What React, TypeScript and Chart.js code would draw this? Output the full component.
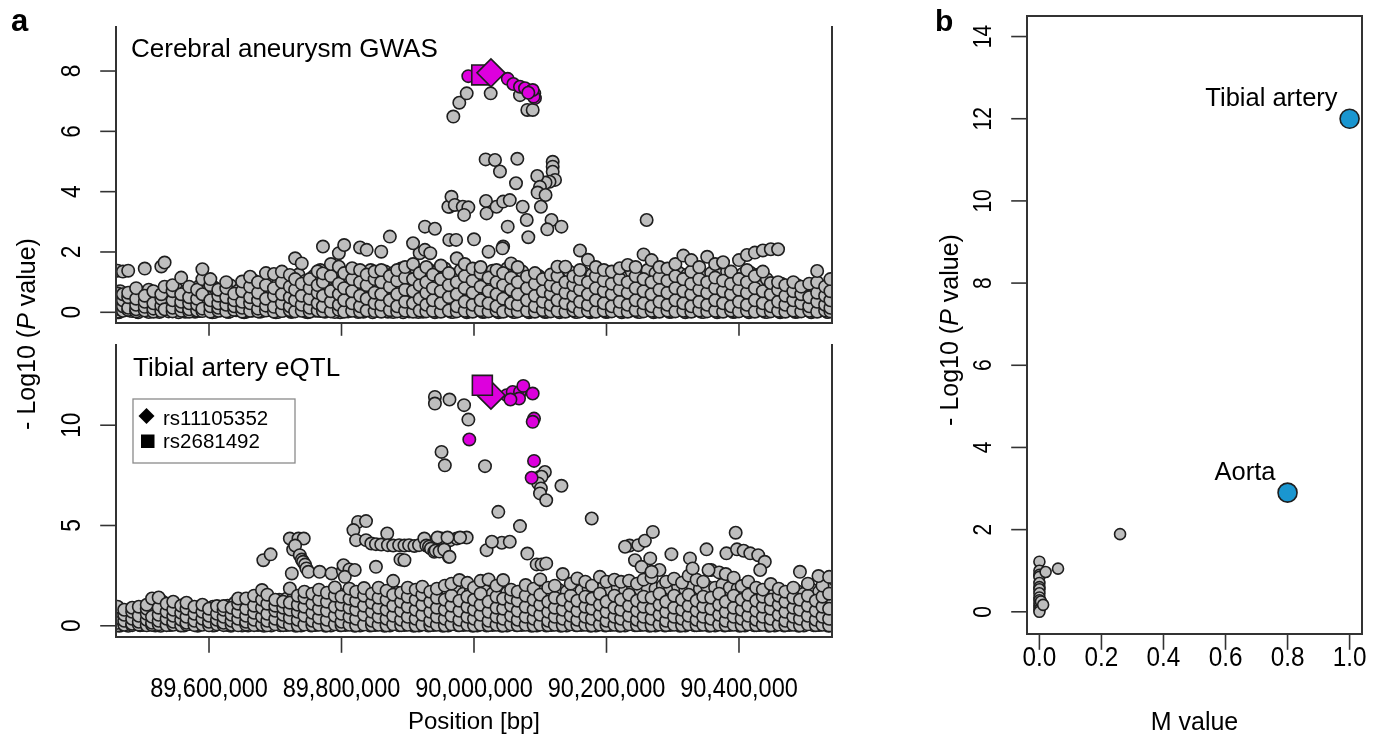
import React, { useEffect, useRef } from 'react';
import { Chart, registerables } from 'chart.js';

Chart.register(...registerables);

const W = 1383;
const H = 739;
const SANS = '"Liberation Sans", Arial, Helvetica, sans-serif';

// ---------------- tick labels ----------------
const positionTicks = [89600000, 89800000, 90000000, 90200000, 90400000];
const gwasTicksY = [0, 2, 4, 6, 8];
const eqtlTicksY = [0, 5, 10];
const mTicksX = [0, 0.2, 0.4, 0.6, 0.8, 1.0];
const mTicksY = [0, 2, 4, 6, 8, 10, 12, 14];

// ---------------- panel a, GWAS (positions in kb) ----------------
const gwasBackground = [
  [89462, [0.02, 0.12, 0.3, 0.55, 0.62, 1.38]], [89470, [0.05, 0.2, 0.4, 0.6, 1.35]],
  [89478, [0.08, 0.15, 0.5, 0.65, 1.38]], [89490, [0.03, 0.1, 0.25, 0.45, 0.8]],
  [89503, [0.06, 0.18, 0.35, 0.55, 1.45]], [89516, [0.02, 0.12, 0.3, 0.7]],
  [89528, [0.04, 0.22, 0.45, 0.6, 1.52]], [89533, [0.1, 0.85, 1.65]],
  [89545, [0.03, 0.15, 0.4, 0.7, 0.9]], [89558, [0.05, 0.2, 0.35, 0.6, 1.15]],
  [89570, [0.02, 0.1, 0.3, 0.5, 0.85]], [89582, [0.06, 0.25, 0.45, 0.75]],
  [89590, [0.04, 0.12, 0.6, 1.1, 1.43]], [89602, [0.02, 0.2, 0.4, 0.9, 1.1]],
  [89614, [0.05, 0.15, 0.3, 0.55, 0.75]], [89626, [0.03, 0.25, 0.5, 0.8, 1.0]],
  [89638, [0.08, 0.2, 0.4, 0.62]], [89650, [0.02, 0.15, 0.35, 0.7, 1.02]],
  [89662, [0.05, 0.3, 0.5, 0.85, 1.18]], [89674, [0.03, 0.12, 0.4, 0.65, 1.0]],
  [89686, [0.06, 0.22, 0.45, 0.9, 1.3]], [89698, [0.02, 0.18, 0.55, 0.8, 1.27]],
  [89710, [0.04, 0.3, 0.6, 1.0, 1.35]], [89722, [0.07, 0.2, 0.5, 0.85, 1.24]],
  [89730, [0.03, 0.4, 0.75, 1.1, 1.79]], [89740, [0.05, 0.25, 0.55, 0.95, 1.62]],
  [89752, [0.02, 0.15, 0.45, 0.8, 1.1]], [89764, [0.06, 0.3, 0.65, 0.9, 1.36]],
  [89772, [0.04, 0.2, 0.55, 1.0, 1.29, 2.18]], [89784, [0.03, 0.35, 0.7, 1.2, 1.6]],
  [89796, [0.08, 0.25, 0.6, 0.95, 1.51, 1.96]], [89804, [0.02, 0.4, 0.8, 1.3, 2.23]],
  [89816, [0.05, 0.3, 0.7, 1.1, 1.46]], [89828, [0.03, 0.2, 0.55, 1.0, 1.4, 2.15]],
  [89838, [0.06, 0.45, 0.9, 1.25, 2.07]], [89850, [0.04, 0.3, 0.65, 1.1, 1.35]],
  [89860, [0.02, 0.25, 0.6, 1.0, 1.4, 2.01]], [89873, [0.07, 0.4, 0.85, 1.2]],
  [89884, [0.03, 0.2, 0.6, 1.05, 1.4]], [89896, [0.05, 0.35, 0.75, 1.15, 1.5]],
  [89908, [0.02, 0.3, 0.7, 1.1, 1.6]], [89918, [0.06, 0.45, 0.9, 1.3, 1.96]],
  [89928, [0.03, 0.25, 0.65, 1.0, 1.5]], [89938, [0.05, 0.4, 0.8, 1.25]],
  [89950, [0.02, 0.3, 0.7, 1.1, 1.55]], [89962, [0.06, 0.5, 0.9, 1.3]],
  [89974, [0.03, 0.2, 0.6, 1.0, 1.79]], [89986, [0.05, 0.35, 0.8, 1.2, 1.6]],
  [89998, [0.02, 0.25, 0.65, 1.05, 1.45]], [90010, [0.07, 0.4, 0.85, 1.3, 1.5]],
  [90022, [0.03, 0.3, 0.7, 1.15, 2.01]], [90034, [0.05, 0.2, 0.6, 1.0, 1.4]],
  [90044, [0.02, 0.45, 0.9, 1.3, 2.18]], [90056, [0.06, 0.3, 0.75, 1.15, 1.62]],
  [90066, [0.03, 0.25, 0.6, 1.0, 1.5]], [90080, [0.05, 0.4, 0.8, 1.19]],
  [90092, [0.02, 0.2, 0.55, 0.95, 1.3]], [90104, [0.07, 0.35, 0.7, 1.1]],
  [90116, [0.03, 0.25, 0.6, 0.9, 1.25]], [90126, [0.05, 0.4, 0.8, 1.2, 1.51]],
  [90138, [0.02, 0.3, 0.65, 1.0, 1.51]], [90150, [0.06, 0.2, 0.55, 0.9, 1.19]],
  [90160, [0.03, 0.35, 0.75, 1.1, 1.4, 2.05]], [90172, [0.05, 0.25, 0.6, 1.0, 1.74]],
  [90184, [0.02, 0.4, 0.8, 1.2, 1.5]], [90196, [0.06, 0.3, 0.7, 1.05, 1.4]],
  [90208, [0.03, 0.2, 0.6, 0.95, 1.35]], [90220, [0.05, 0.35, 0.75, 1.1, 1.46]],
  [90232, [0.02, 0.25, 0.65, 1.0, 1.57]], [90244, [0.07, 0.4, 0.8, 1.2, 1.5]],
  [90256, [0.03, 0.3, 0.7, 1.1, 1.92]], [90268, [0.05, 0.2, 0.6, 1.0, 1.73]],
  [90280, [0.02, 0.35, 0.75, 1.15, 1.5]], [90292, [0.06, 0.25, 0.65, 1.05, 1.45]],
  [90304, [0.03, 0.4, 0.8, 1.2, 1.6]], [90316, [0.05, 0.3, 0.7, 1.1, 1.88]],
  [90328, [0.02, 0.2, 0.6, 0.95, 1.35, 1.73]], [90340, [0.06, 0.35, 0.75, 1.1, 1.5]],
  [90352, [0.03, 0.25, 0.65, 1.0, 1.84]], [90364, [0.05, 0.4, 0.8, 1.15, 1.6]],
  [90376, [0.02, 0.3, 0.7, 1.05, 1.66]], [90388, [0.06, 0.2, 0.6, 0.95, 1.35]],
  [90400, [0.03, 0.35, 0.75, 1.1, 1.73]], [90412, [0.05, 0.25, 0.65, 1.0, 1.4, 1.9]],
  [90424, [0.02, 0.4, 0.8, 1.2, 1.98]], [90436, [0.06, 0.3, 0.7, 1.35, 2.05]],
  [90448, [0.03, 0.2, 0.6, 0.97, 2.09]], [90459, [0.05, 0.35, 0.75, 1.0, 2.09]],
  [90470, [0.02, 0.25, 0.55, 0.9]], [90482, [0.06, 0.4, 0.7, 1.0]],
  [90494, [0.03, 0.3, 0.6, 0.85]], [90506, [0.05, 0.2, 0.5, 0.95]],
  [90518, [0.02, 0.35, 0.65, 1.0, 1.37]], [90530, [0.06, 0.25, 0.55, 0.85]],
  [90538, [0.03, 0.15, 0.4, 0.7, 1.1]],
];
const gwasBackgroundFill = [
  [89466, [0.1, 0.35, 0.7]], [89484, [0.04, 0.28, 0.52]], [89496, [0.12, 0.38, 0.62]],
  [89509, [0.01, 0.26, 0.48, 0.75]], [89522, [0.09, 0.33, 0.58]], [89539, [0.03, 0.27, 0.55]],
  [89551, [0.11, 0.42, 0.78]], [89564, [0.02, 0.24, 0.5, 0.68]], [89576, [0.1, 0.36, 0.62]],
  [89586, [0.04, 0.3, 0.88]], [89596, [0.12, 0.45, 0.7]], [89608, [0.01, 0.28, 0.62, 0.82]],
  [89620, [0.09, 0.4, 0.66]], [89632, [0.03, 0.32, 0.58, 0.9]], [89644, [0.11, 0.45, 0.72]],
  [89656, [0.02, 0.26, 0.6, 0.88]], [89668, [0.1, 0.4, 0.7, 1.05]], [89680, [0.04, 0.32, 0.62]],
  [89692, [0.12, 0.48, 0.75, 1.1]], [89704, [0.01, 0.35, 0.68, 0.95]], [89716, [0.09, 0.42, 0.75, 1.12]],
  [89726, [0.03, 0.3, 0.62, 1.0]], [89735, [0.11, 0.5, 0.85, 1.25]], [89746, [0.02, 0.38, 0.7, 1.05]],
  [89758, [0.1, 0.45, 0.8, 1.2]], [89768, [0.04, 0.35, 0.72, 1.1, 1.4]], [89778, [0.12, 0.5, 0.85, 1.15]],
  [89790, [0.01, 0.4, 0.78, 1.25]], [89800, [0.09, 0.5, 0.9, 1.35]], [89810, [0.03, 0.35, 0.75, 1.2]],
  [89822, [0.11, 0.48, 0.88, 1.3]], [89833, [0.02, 0.38, 0.8, 1.15]], [89844, [0.1, 0.5, 0.95, 1.4]],
  [89855, [0.04, 0.42, 0.82, 1.25]], [89866, [0.12, 0.52, 0.92, 1.35]], [89878, [0.01, 0.36, 0.78, 1.3]],
  [89890, [0.09, 0.48, 0.9, 1.45]], [89902, [0.03, 0.42, 0.85, 1.3]], [89913, [0.11, 0.55, 0.95, 1.42]],
  [89923, [0.02, 0.38, 0.8, 1.2]], [89933, [0.1, 0.52, 0.98, 1.4]], [89944, [0.04, 0.45, 0.88, 1.35]],
  [89956, [0.12, 0.55, 1.0, 1.45]], [89968, [0.01, 0.4, 0.85, 1.25]], [89980, [0.09, 0.5, 0.95, 1.4]],
  [89992, [0.03, 0.45, 0.9, 1.35]], [90004, [0.11, 0.55, 1.0, 1.42]], [90016, [0.02, 0.42, 0.88, 1.25]],
  [90028, [0.1, 0.5, 0.95, 1.38]], [90039, [0.04, 0.45, 0.85, 1.3]], [90050, [0.12, 0.55, 1.0, 1.45]],
  [90061, [0.01, 0.4, 0.82, 1.2]], [90073, [0.09, 0.5, 0.92, 1.35]], [90086, [0.03, 0.42, 0.85, 1.15]],
  [90098, [0.11, 0.48, 0.88, 1.2]], [90110, [0.02, 0.38, 0.8, 1.1]], [90121, [0.1, 0.45, 0.85, 1.25]],
  [90132, [0.04, 0.4, 0.8, 1.3]], [90144, [0.12, 0.5, 0.9, 1.35]], [90155, [0.01, 0.35, 0.75, 1.2]],
  [90166, [0.09, 0.48, 0.88, 1.3]], [90178, [0.03, 0.42, 0.8, 1.25]], [90190, [0.11, 0.5, 0.9, 1.35]],
  [90202, [0.02, 0.38, 0.78, 1.2]], [90214, [0.1, 0.45, 0.85, 1.28]], [90226, [0.04, 0.4, 0.8, 1.3]],
  [90238, [0.12, 0.5, 0.9, 1.35]], [90250, [0.01, 0.36, 0.78, 1.25]], [90262, [0.09, 0.48, 0.88, 1.4]],
  [90274, [0.03, 0.42, 0.82, 1.3]], [90286, [0.11, 0.5, 0.9, 1.35]], [90298, [0.02, 0.38, 0.78, 1.22]],
  [90310, [0.1, 0.45, 0.85, 1.3]], [90322, [0.04, 0.4, 0.8, 1.25]], [90334, [0.12, 0.5, 0.9, 1.4]],
  [90346, [0.01, 0.35, 0.75, 1.2]], [90358, [0.09, 0.48, 0.88, 1.3]], [90370, [0.03, 0.42, 0.8, 1.25]],
  [90382, [0.11, 0.5, 0.9, 1.35]], [90394, [0.02, 0.38, 0.78, 1.2]], [90406, [0.1, 0.45, 0.85, 1.28]],
  [90418, [0.04, 0.4, 0.8, 1.3]], [90430, [0.12, 0.5, 0.9, 1.25]], [90442, [0.01, 0.36, 0.75, 1.1]],
  [90453, [0.09, 0.45, 0.82]], [90464, [0.03, 0.38, 0.7, 0.95]], [90476, [0.11, 0.45, 0.8]],
  [90488, [0.02, 0.35, 0.68, 0.9]], [90500, [0.1, 0.42, 0.75]], [90512, [0.04, 0.32, 0.65, 0.88]],
  [90524, [0.12, 0.45, 0.78]], [90534, [0.01, 0.3, 0.6, 0.9]],
];
const gwasLow = [
  [89464, [0.0, 0.18]], [89480, [0.06, 0.22]], [89493, [0.0, 0.16]], [89512, [0.08, 0.2]],
  [89525, [0.01, 0.14]], [89542, [0.07, 0.21]], [89554, [0.0, 0.17]], [89567, [0.05, 0.23]],
  [89579, [0.02, 0.15]], [89593, [0.08, 0.19]], [89605, [0.0, 0.22]], [89617, [0.06, 0.16]],
  [89629, [0.01, 0.2]], [89641, [0.07, 0.24]], [89653, [0.0, 0.14]], [89665, [0.05, 0.21]],
  [89677, [0.02, 0.18]], [89689, [0.08, 0.23]], [89701, [0.0, 0.15]], [89713, [0.06, 0.2]],
  [89724, [0.01, 0.17]], [89737, [0.07, 0.22]], [89749, [0.0, 0.19]], [89761, [0.05, 0.16]],
  [89775, [0.02, 0.24]], [89787, [0.08, 0.18]], [89798, [0.0, 0.21]], [89813, [0.06, 0.15]],
  [89825, [0.01, 0.2]], [89836, [0.07, 0.23]], [89847, [0.0, 0.17]], [89858, [0.05, 0.22]],
  [89870, [0.02, 0.16]], [89881, [0.08, 0.2]], [89893, [0.0, 0.24]], [89905, [0.06, 0.18]],
  [89916, [0.01, 0.21]], [89926, [0.07, 0.15]], [89941, [0.0, 0.2]], [89953, [0.05, 0.23]],
  [89965, [0.02, 0.17]], [89977, [0.08, 0.22]], [89989, [0.0, 0.16]], [90001, [0.06, 0.2]],
  [90013, [0.01, 0.24]], [90025, [0.07, 0.18]], [90037, [0.0, 0.21]], [90047, [0.05, 0.15]],
  [90059, [0.02, 0.2]], [90070, [0.08, 0.23]], [90083, [0.0, 0.17]], [90095, [0.06, 0.22]],
  [90107, [0.01, 0.16]], [90119, [0.07, 0.2]], [90129, [0.0, 0.24]], [90141, [0.05, 0.18]],
  [90153, [0.02, 0.21]], [90163, [0.08, 0.15]], [90175, [0.0, 0.2]], [90187, [0.06, 0.23]],
  [90199, [0.01, 0.17]], [90211, [0.07, 0.22]], [90223, [0.0, 0.16]], [90235, [0.05, 0.2]],
  [90247, [0.02, 0.24]], [90259, [0.08, 0.18]], [90271, [0.0, 0.21]], [90283, [0.06, 0.15]],
  [90295, [0.01, 0.2]], [90307, [0.07, 0.23]], [90319, [0.0, 0.17]], [90331, [0.05, 0.22]],
  [90343, [0.02, 0.16]], [90355, [0.08, 0.2]], [90367, [0.0, 0.24]], [90379, [0.06, 0.18]],
  [90391, [0.01, 0.21]], [90403, [0.07, 0.15]], [90415, [0.0, 0.2]], [90427, [0.05, 0.23]],
  [90439, [0.02, 0.17]], [90451, [0.08, 0.22]], [90462, [0.0, 0.16]], [90473, [0.06, 0.2]],
  [90485, [0.01, 0.24]], [90497, [0.07, 0.18]], [90509, [0.0, 0.21]], [90521, [0.05, 0.15]],
  [90533, [0.02, 0.2]],
];
const gwasPeak = [
  [89926, 2.84], [89941, 2.77], [89926, 2.07], [89934, 1.96], [89962.7, 2.4], [89963, 3.5],
  [89961.3, 3.5], [89966, 3.83], [89971, 3.56], [89983, 3.5], [89991.5, 3.48], [89985, 3.23],
  [89968.8, 6.49], [89977.8, 6.95], [89989, 7.26], [90025.2, 7.26], [90069.4, 7.2],
  [90080.5, 6.71], [90088.6, 6.71], [90017.6, 5.07], [90031.7, 5.05], [90039.2, 4.67],
  [90065.4, 5.09], [90063.4, 4.28], [90118.8, 4.99], [90118.8, 4.83], [90118.8, 4.66],
  [90122.3, 4.39], [90114, 4.33], [90108, 4.3], [90095.5, 4.52], [90099.6, 4.16], [90096, 3.97],
  [90108, 3.89], [90101, 3.5], [90018.1, 3.69], [90019, 3.28], [90034, 3.5], [90044, 3.67],
  [90054, 3.72], [90073.5, 3.5], [90079.6, 3.06], [90050.9, 2.84], [90082, 2.49], [90117, 3.06],
  [90132, 2.84], [90110.6, 2.75], [90000, 2.42], [89973, 2.4], [90043, 2.12], [90260.6, 3.06],
  [89873, 2.51], [89908, 2.29],
];
const gwasLinked = [
  [89991.4, 7.83], [90050.9, 7.74], [90059.4, 7.57], [90069.4, 7.48], [90077, 7.43],
  [90085.5, 7.31], [90091, 7.26], [90092, 7.1], [90090, 7.15], [90088.6, 7.37], [90082, 7.28],
];
const gwasDiamond = [[90025.6, 7.94]];
const gwasSquare = [[90011.7, 7.87]];

// ---------------- panel a, tibial artery eQTL (positions in kb) ----------------
const eqtlBackground = [
  [89462, [0.02, 0.15, 0.4, 0.75, 0.95]], [89472, [0.05, 0.25, 0.55, 0.8]],
  [89484, [0.03, 0.1, 0.35, 0.7, 0.9]], [89494, [0.06, 0.2, 0.5, 0.95]],
  [89506, [0.02, 0.3, 0.6, 0.85, 1.05]], [89514, [0.04, 0.15, 0.45, 1.36]],
  [89524, [0.07, 0.25, 0.55, 0.9, 1.41]], [89536, [0.03, 0.35, 0.7, 1.1]],
  [89546, [0.05, 0.2, 0.5, 0.8, 1.2]], [89558, [0.02, 0.3, 0.65, 1.0]],
  [89566, [0.06, 0.15, 0.45, 0.85, 1.15]], [89578, [0.03, 0.25, 0.6, 0.95]],
  [89590, [0.05, 0.35, 0.7, 1.05]], [89600, [0.02, 0.2, 0.5, 0.85]],
  [89612, [0.07, 0.3, 0.6, 0.98]], [89622, [0.03, 0.15, 0.45, 0.8, 0.98]],
  [89634, [0.05, 0.25, 0.55, 0.9]], [89644, [0.02, 0.35, 0.7, 1.1, 1.36]],
  [89656, [0.06, 0.2, 0.5, 0.85, 1.36]], [89668, [0.03, 0.3, 0.65, 1.0, 1.5]],
  [89680, [0.05, 0.45, 0.9, 1.3, 1.78]], [89688, [0.02, 0.25, 0.6, 1.1, 1.55]],
  [89700, [0.07, 0.35, 0.75, 1.0, 1.3]], [89712, [0.03, 0.2, 0.55, 0.9, 1.2]],
  [89722, [0.05, 0.4, 0.8, 1.15, 1.86]], [89734, [0.02, 0.3, 0.7, 1.05, 1.5]],
  [89744, [0.06, 0.5, 0.95, 1.4, 1.7]], [89756, [0.03, 0.25, 0.65, 1.1, 1.6]],
  [89766, [0.05, 0.4, 0.85, 1.3, 1.8]], [89778, [0.02, 0.3, 0.75, 1.2, 1.65]],
  [89790, [0.07, 0.5, 0.95, 1.5, 1.91]], [89800, [0.03, 0.2, 0.6, 1.05, 1.45]],
  [89812, [0.05, 0.45, 0.9, 1.35, 1.85]], [89822, [0.02, 0.35, 0.8, 1.25, 1.7]],
  [89834, [0.06, 0.55, 1.0, 1.5, 1.88]], [89846, [0.03, 0.25, 0.7, 1.15, 1.6]],
  [89856, [0.05, 0.45, 0.9, 1.4, 1.9]], [89868, [0.02, 0.35, 0.8, 1.3, 1.75]],
  [89878, [0.07, 0.5, 1.0, 1.55, 2.24]], [89890, [0.03, 0.3, 0.75, 1.2, 1.65]],
  [89900, [0.05, 0.45, 0.95, 1.45, 1.9]], [89912, [0.02, 0.35, 0.8, 1.3, 1.8]],
  [89922, [0.06, 0.55, 1.05, 1.55, 1.95]], [89934, [0.03, 0.25, 0.7, 1.2, 1.7]],
  [89944, [0.05, 0.45, 0.9, 1.4, 1.85]], [89956, [0.02, 0.35, 0.8, 1.3, 2.0]],
  [89966, [0.07, 0.5, 1.0, 1.5, 2.1]], [89978, [0.03, 0.3, 0.75, 1.25, 2.28]],
  [89990, [0.05, 0.45, 0.95, 1.45, 2.14]], [90000, [0.02, 0.35, 0.8, 1.3, 1.9]],
  [90010, [0.06, 0.55, 1.05, 1.6, 2.24]], [90022, [0.03, 0.25, 0.7, 1.2, 2.31]],
  [90034, [0.05, 0.45, 0.9, 1.45, 2.0]], [90044, [0.02, 0.35, 0.85, 1.35, 2.28]],
  [90056, [0.07, 0.5, 1.0, 1.41, 1.8]], [90066, [0.03, 0.3, 0.75, 1.25, 1.7]],
  [90078, [0.05, 0.45, 0.95, 1.5, 2.03]], [90090, [0.02, 0.35, 0.8, 1.3, 1.85]],
  [90100, [0.06, 0.55, 1.05, 1.55, 2.31]], [90112, [0.03, 0.25, 0.7, 1.2, 1.9]],
  [90122, [0.05, 0.45, 0.9, 1.4, 2.0]], [90134, [0.02, 0.35, 0.8, 1.3, 2.58]],
  [90146, [0.07, 0.5, 1.0, 1.5, 2.1]], [90156, [0.03, 0.3, 0.75, 1.25, 2.36]],
  [90168, [0.05, 0.45, 0.95, 1.45, 2.2]], [90178, [0.02, 0.35, 0.85, 1.35, 2.0]],
  [90190, [0.06, 0.55, 1.05, 1.6, 2.44]], [90200, [0.03, 0.25, 0.7, 1.2, 2.2]],
  [90212, [0.05, 0.45, 0.9, 1.5, 2.3]], [90222, [0.02, 0.35, 0.8, 1.3, 2.19]],
  [90234, [0.07, 0.5, 1.0, 1.55, 2.25]], [90246, [0.03, 0.3, 0.75, 1.25, 2.1]],
  [90256, [0.05, 0.45, 0.95, 1.45, 2.3]], [90268, [0.02, 0.35, 0.85, 1.4, 2.4]],
  [90280, [0.06, 0.55, 1.05, 1.6, 2.78]], [90290, [0.03, 0.25, 0.7, 1.2, 2.2]],
  [90302, [0.05, 0.45, 0.9, 1.5, 2.35]], [90314, [0.02, 0.35, 0.8, 1.3, 2.15]],
  [90324, [0.07, 0.5, 1.0, 1.55, 2.5]], [90336, [0.03, 0.3, 0.75, 1.25, 2.3]],
  [90346, [0.05, 0.45, 0.95, 1.45, 2.2]], [90358, [0.02, 0.35, 0.85, 1.4, 2.78]],
  [90370, [0.06, 0.55, 1.05, 1.6, 2.66]], [90380, [0.03, 0.25, 0.7, 1.2, 2.58]],
  [90392, [0.05, 0.45, 0.9, 1.5, 2.4]], [90404, [0.02, 0.35, 0.8, 1.3, 1.98]],
  [90414, [0.07, 0.5, 1.0, 1.55, 2.2]], [90426, [0.03, 0.3, 0.75, 1.25, 1.9]],
  [90436, [0.05, 0.45, 0.95, 1.45, 1.8]], [90448, [0.02, 0.35, 0.85, 1.3, 2.08]],
  [90460, [0.06, 0.55, 1.05, 1.5, 1.85]], [90470, [0.03, 0.25, 0.7, 1.2, 1.7]],
  [90482, [0.05, 0.45, 0.9, 1.4, 1.9]], [90492, [0.02, 0.35, 0.8, 1.3]],
  [90504, [0.07, 0.5, 1.0, 1.5, 2.1]], [90516, [0.03, 0.3, 0.75, 1.25]],
  [90526, [0.05, 0.45, 0.95, 1.45, 2.0]], [90536, [0.02, 0.35, 0.85, 1.6]],
];
const eqtlBackgroundFill = [
  [89467, [0.1, 0.3, 0.6]], [89478, [0.0, 0.45, 0.7]], [89489, [0.12, 0.28, 0.55]],
  [89500, [0.04, 0.4, 0.75]], [89510, [0.1, 0.3, 0.7, 1.0]], [89519, [0.01, 0.35, 0.8]],
  [89530, [0.12, 0.45, 0.75, 1.2]], [89541, [0.04, 0.28, 0.6, 0.95]], [89552, [0.1, 0.4, 0.7]],
  [89562, [0.01, 0.35, 0.8, 1.05]], [89572, [0.12, 0.4, 0.75]], [89584, [0.04, 0.3, 0.55, 0.9]],
  [89595, [0.1, 0.45, 0.8]], [89606, [0.01, 0.35, 0.7, 0.95]], [89617, [0.12, 0.4, 0.75]],
  [89628, [0.04, 0.3, 0.65, 1.0]], [89639, [0.1, 0.45, 0.8, 1.15]], [89650, [0.01, 0.35, 0.7, 1.0]],
  [89662, [0.12, 0.45, 0.8, 1.2]], [89674, [0.04, 0.35, 0.7, 1.1]], [89684, [0.1, 0.55, 0.95, 1.4]],
  [89694, [0.01, 0.4, 0.8, 1.25]], [89706, [0.12, 0.5, 0.9, 1.3]], [89717, [0.04, 0.45, 0.85, 1.35]],
  [89728, [0.1, 0.6, 1.0, 1.45]], [89739, [0.01, 0.4, 0.85, 1.3]], [89750, [0.12, 0.6, 1.05, 1.55]],
  [89761, [0.04, 0.45, 0.9, 1.4]], [89772, [0.1, 0.6, 1.05, 1.5]], [89784, [0.01, 0.45, 0.9, 1.4]],
  [89795, [0.12, 0.6, 1.1, 1.6]], [89806, [0.04, 0.45, 0.95, 1.45]], [89817, [0.1, 0.6, 1.1, 1.55]],
  [89828, [0.01, 0.45, 0.95, 1.45]], [89840, [0.12, 0.65, 1.15, 1.6]], [89851, [0.04, 0.5, 1.0, 1.5]],
  [89862, [0.1, 0.65, 1.15, 1.6]], [89873, [0.01, 0.45, 1.0, 1.5]], [89884, [0.12, 0.65, 1.15, 1.65]],
  [89895, [0.04, 0.5, 1.0, 1.55]], [89906, [0.1, 0.65, 1.15, 1.6]], [89917, [0.01, 0.45, 1.0, 1.5]],
  [89928, [0.12, 0.65, 1.2, 1.7]], [89939, [0.04, 0.5, 1.05, 1.55]], [89950, [0.1, 0.65, 1.2, 1.65]],
  [89961, [0.01, 0.5, 1.05, 1.6]], [89972, [0.12, 0.65, 1.2, 1.75]], [89984, [0.04, 0.5, 1.05, 1.6]],
  [89995, [0.1, 0.65, 1.2, 1.7]], [90005, [0.01, 0.5, 1.0, 1.55]], [90016, [0.12, 0.65, 1.2, 1.75]],
  [90028, [0.04, 0.5, 1.05, 1.6]], [90039, [0.1, 0.65, 1.2, 1.7]], [90050, [0.01, 0.5, 1.05, 1.65]],
  [90061, [0.12, 0.65, 1.15, 1.6]], [90072, [0.04, 0.5, 1.05, 1.55]], [90084, [0.1, 0.65, 1.2, 1.7]],
  [90095, [0.01, 0.5, 1.0, 1.6]], [90106, [0.12, 0.65, 1.2, 1.75]], [90117, [0.04, 0.5, 1.05, 1.65]],
  [90128, [0.1, 0.65, 1.2, 1.8]], [90140, [0.01, 0.5, 1.05, 1.7]], [90151, [0.12, 0.65, 1.25, 1.85]],
  [90162, [0.04, 0.5, 1.1, 1.75]], [90173, [0.1, 0.7, 1.25, 1.85]], [90184, [0.01, 0.5, 1.1, 1.8]],
  [90195, [0.12, 0.7, 1.25, 1.9]], [90206, [0.04, 0.55, 1.1, 1.8]], [90217, [0.1, 0.7, 1.3, 1.9]],
  [90228, [0.01, 0.55, 1.1, 1.75]], [90240, [0.12, 0.7, 1.3, 1.95]], [90251, [0.04, 0.55, 1.15, 1.8]],
  [90262, [0.1, 0.7, 1.3, 1.9]], [90274, [0.01, 0.55, 1.15, 1.85]], [90285, [0.12, 0.7, 1.3, 2.0]],
  [90296, [0.04, 0.55, 1.15, 1.85]], [90308, [0.1, 0.7, 1.3, 1.95]], [90319, [0.01, 0.55, 1.15, 1.8]],
  [90330, [0.12, 0.7, 1.3, 2.0]], [90341, [0.04, 0.55, 1.15, 1.85]], [90352, [0.1, 0.7, 1.3, 1.95]],
  [90364, [0.01, 0.55, 1.15, 1.9]], [90375, [0.12, 0.7, 1.3, 2.05]], [90386, [0.04, 0.55, 1.15, 1.9]],
  [90398, [0.1, 0.7, 1.3, 1.85]], [90409, [0.01, 0.55, 1.1, 1.7]], [90420, [0.12, 0.7, 1.25, 1.8]],
  [90431, [0.04, 0.55, 1.1, 1.65]], [90442, [0.1, 0.7, 1.25, 1.75]], [90454, [0.01, 0.5, 1.05, 1.6]],
  [90465, [0.12, 0.65, 1.2, 1.7]], [90476, [0.04, 0.5, 1.05, 1.55]], [90487, [0.1, 0.65, 1.2, 1.75]],
  [90498, [0.01, 0.5, 1.05, 1.6]], [90510, [0.12, 0.65, 1.2, 1.8]], [90521, [0.04, 0.5, 1.1, 1.7]],
  [90532, [0.1, 0.65, 1.2, 1.85]],
];
const eqtlLow = [
  [89465, [0.0, 0.2]], [89481, [0.08, 0.28]], [89496, [0.02, 0.18]], [89511, [0.1, 0.3]],
  [89527, [0.0, 0.22]], [89543, [0.06, 0.26]], [89557, [0.01, 0.19]], [89570, [0.09, 0.3]],
  [89583, [0.0, 0.21]], [89597, [0.07, 0.27]], [89609, [0.02, 0.18]], [89621, [0.1, 0.29]],
  [89633, [0.0, 0.23]], [89647, [0.06, 0.25]], [89659, [0.01, 0.2]], [89671, [0.09, 0.3]],
  [89683, [0.0, 0.22]], [89696, [0.07, 0.26]], [89708, [0.02, 0.19]], [89719, [0.1, 0.28]],
  [89731, [0.0, 0.21]], [89742, [0.06, 0.27]], [89754, [0.01, 0.18]], [89764, [0.09, 0.3]],
  [89776, [0.0, 0.23]], [89788, [0.07, 0.25]], [89798, [0.02, 0.2]], [89809, [0.1, 0.29]],
  [89820, [0.0, 0.22]], [89831, [0.06, 0.26]], [89843, [0.01, 0.19]], [89853, [0.09, 0.28]],
  [89865, [0.0, 0.21]], [89876, [0.07, 0.27]], [89887, [0.02, 0.18]], [89898, [0.1, 0.3]],
  [89909, [0.0, 0.23]], [89920, [0.06, 0.25]], [89931, [0.01, 0.2]], [89942, [0.09, 0.29]],
  [89953, [0.0, 0.22]], [89964, [0.07, 0.26]], [89976, [0.02, 0.19]], [89987, [0.1, 0.28]],
  [89998, [0.0, 0.21]], [90008, [0.06, 0.27]], [90019, [0.01, 0.18]], [90031, [0.09, 0.3]],
  [90042, [0.0, 0.23]], [90053, [0.07, 0.25]], [90064, [0.02, 0.2]], [90075, [0.1, 0.29]],
  [90087, [0.0, 0.22]], [90098, [0.06, 0.26]], [90109, [0.01, 0.19]], [90120, [0.09, 0.28]],
  [90131, [0.0, 0.21]], [90143, [0.07, 0.27]], [90154, [0.02, 0.18]], [90165, [0.1, 0.3]],
  [90176, [0.0, 0.23]], [90187, [0.06, 0.25]], [90198, [0.01, 0.2]], [90209, [0.09, 0.29]],
  [90220, [0.0, 0.22]], [90231, [0.07, 0.26]], [90243, [0.02, 0.19]], [90254, [0.1, 0.28]],
  [90265, [0.0, 0.21]], [90277, [0.06, 0.27]], [90288, [0.01, 0.18]], [90299, [0.09, 0.3]],
  [90311, [0.0, 0.23]], [90322, [0.07, 0.25]], [90333, [0.02, 0.2]], [90344, [0.1, 0.29]],
  [90355, [0.0, 0.22]], [90367, [0.06, 0.26]], [90378, [0.01, 0.19]], [90389, [0.09, 0.28]],
  [90401, [0.0, 0.21]], [90412, [0.07, 0.27]], [90423, [0.02, 0.18]], [90434, [0.1, 0.3]],
  [90445, [0.0, 0.23]], [90457, [0.06, 0.25]], [90468, [0.01, 0.2]], [90479, [0.09, 0.29]],
  [90490, [0.0, 0.22]], [90501, [0.07, 0.26]], [90513, [0.02, 0.19]], [90524, [0.1, 0.28]],
  [90535, [0.0, 0.21]],
];
const eqtlPeak = [
  [89941, 11.41], [89941, 11.08], [89963, 11.28], [89985, 11.0], [89991.5, 10.28], [89951, 8.67],
  [89956, 8.0], [90016.6, 7.96], [90099.6, 7.43], [90107, 7.67], [90102, 7.43], [90097, 7.1],
  [90101, 6.85], [90099.6, 6.6], [90109, 6.26], [90132, 6.98], [90036.7, 5.68], [90069.4, 4.97],
  [90177.7, 5.35], [90080.5, 3.6], [90019, 3.77], [90042, 4.14], [90027, 4.19], [90094.6, 3.06],
  [90102, 3.06], [90109, 3.11], [90054, 4.19], [89954.7, 3.86], [89951, 4.35], [89964, 4.27],
  [89974, 4.35], [89989, 4.4], [89962, 3.44], [90235, 4.0], [90243, 3.27], [90248, 4.02],
  [90253, 2.94], [90258, 4.24], [90266, 3.36], [90268, 2.69], [90270, 4.68], [90298, 3.57],
  [90326, 3.36], [90351, 3.81], [90354, 2.78], [90381, 3.61], [90395, 4.64], [90397, 3.81],
  [90407, 3.74], [90417, 3.61], [90429, 3.52], [90439, 3.19], [90432, 2.78], [90492, 2.69],
  [90520, 2.48], [90536, 2.44], [90228, 3.94], [90330, 2.86], [89682, 3.27], [89693, 3.56],
  [89722, 4.35], [89735, 4.35], [89743, 4.35], [89727, 3.8], [89730, 4.0], [89737, 3.52],
  [89740, 3.3], [89742, 3.19], [89745, 3.05], [89747, 2.86], [89725, 2.61], [89750, 2.69],
  [89767, 2.69], [89785, 2.61], [89802, 2.74], [89803, 3.02], [89812, 2.81], [89805, 2.44],
  [89820, 2.78], [89825, 5.18], [89837, 5.22], [89818, 4.77], [89822, 4.27], [89837, 4.27],
  [89845, 4.1], [89852, 4.07], [89860, 4.05], [89869, 4.6], [89870, 4.02], [89878, 4.0],
  [89887, 4.02], [89895, 4.0], [89902, 4.02], [89910, 3.98], [89917, 4.02], [89925, 4.35],
  [89928, 4.0], [89932, 3.94], [89935, 3.85], [89940, 3.69], [89942, 3.75], [89948, 3.7],
  [89955, 3.8], [89963, 3.44], [89979, 4.4], [89889, 3.31], [89852, 2.94], [89895, 3.27],
  [89945, 4.4], [89960, 4.4],
];
const eqtlLinked = [
  [89992.9, 9.29], [90049.3, 11.5], [90058.4, 11.66], [90069.4, 11.66], [90074.4, 11.96],
  [90068, 11.33], [90055, 11.28], [90088.6, 11.58], [90090.6, 10.33], [90088.6, 10.17],
  [90090.6, 8.22], [90087, 7.38],
];
const eqtlDiamond = [[90025.6, 11.5]];
const eqtlSquare = [[90012.6, 11.99]];
const legendSnps = ['rs11105352', 'rs2681492'];

// ---------------- panel b ----------------
const mOther = [
  [0, 1.22], [0, 1.0], [0, 0.9], [0, 0.85], [0, 0.7], [0, 0.6], [0, 0.55], [0, 0.45],
  [0, 0.35], [0, 0.28], [0, 0.2], [0, 0.12], [0, 0.05], [0, 0.0], [0.005, 0.25],
  [0.012, 0.17], [0.02, 0.97], [0.06, 1.05], [0.26, 1.89],
];
const mTissue = [[0.8, 2.9], [1.0, 12.0]];
const mTissueNames = ['Aorta', 'Tibial artery'];

// ---------------- styling ----------------
const GRAY = '#bebebe';
const EDGE = '#1e1e1e';
const MAGENTA = '#dd00dd';
const BLUE = '#1a96d0';
const AXIS = '#333333';
const R_PT = 6.2;

const TOP = { left: 116, top: 27, right: 832, bottom: 323 };
const BOT = { left: 116, top: 345, right: 832, bottom: 637 };
const RB = { left: 1027, top: 16, right: 1362, bottom: 634 };

const toXY = (arr: number[][], k = 1000) => arr.map(([x, y]) => ({ x: x * k, y }));
const expand = (cols: any[]) =>
  cols.flatMap(([x, ys]: [number, number[]]) => ys.map((y) => ({ x: x * 1000, y })));

function txt(ctx: CanvasRenderingContext2D, s: string, x: number, y: number, o: any) {
  ctx.save();
  ctx.translate(x, y);
  if (o.rot) ctx.rotate(o.rot);
  ctx.scale(o.sx ?? 1, 1);
  ctx.font = `${o.style ?? 'normal'} ${o.weight ?? 'normal'} ${o.size}px ${SANS}`;
  ctx.textAlign = o.align ?? 'left';
  ctx.textBaseline = o.baseline ?? 'alphabetic';
  ctx.fillStyle = o.color ?? '#000';
  ctx.fillText(s, 0, 0);
  ctx.restore();
}

function yTitle(ctx: CanvasRenderingContext2D, cx: number, cy: number, size: number) {
  const segs = [
    { t: '- Log10 (', it: false },
    { t: 'P', it: true },
    { t: ' value)', it: false },
  ];
  ctx.save();
  ctx.translate(cx, cy);
  ctx.rotate(-Math.PI / 2);
  let total = 0;
  const widths = segs.map((s) => {
    ctx.font = `${s.it ? 'italic' : 'normal'} normal ${size}px ${SANS}`;
    const w = ctx.measureText(s.t).width;
    total += w;
    return w;
  });
  let x = -total / 2;
  ctx.fillStyle = '#000';
  ctx.textBaseline = 'alphabetic';
  ctx.textAlign = 'left';
  segs.forEach((s, i) => {
    ctx.font = `${s.it ? 'italic' : 'normal'} normal ${size}px ${SANS}`;
    ctx.fillText(s.t, x, 0);
    x += widths[i];
  });
  ctx.restore();
}

function line(ctx: CanvasRenderingContext2D, x1: number, y1: number, x2: number, y2: number, w = 1.6, c = AXIS) {
  ctx.save();
  ctx.strokeStyle = c;
  ctx.lineWidth = w;
  ctx.lineCap = 'square';
  ctx.beginPath();
  ctx.moveTo(x1, y1);
  ctx.lineTo(x2, y2);
  ctx.stroke();
  ctx.restore();
}

const fmtBp = (v: number) => v.toLocaleString('en-US');

function ptsDataset(data: any[], fill: string, radius: number, style = 'circle', border = 1.6) {
  return {
    data,
    pointStyle: style,
    pointRadius: radius,
    pointHoverRadius: radius,
    pointBackgroundColor: fill,
    pointBorderColor: EDGE,
    pointBorderWidth: border,
    pointHoverBorderWidth: border,
    showLine: false,
  };
}

function makeConfig(rect: any, xr: number[], yr: number[], datasets: any[], draw: (c: any) => void) {
  return {
    type: 'scatter',
    data: { datasets },
    options: {
      animation: false,
      responsive: false,
      devicePixelRatio: 1,
      events: [],
      layout: { padding: { left: rect.left, top: rect.top, right: W - rect.right, bottom: H - rect.bottom } },
      plugins: { legend: { display: false }, tooltip: { enabled: false }, title: { display: false } },
      scales: {
        x: { type: 'linear', min: xr[0], max: xr[1], display: false },
        y: { type: 'linear', min: yr[0], max: yr[1], display: false },
      },
    },
    plugins: [{ id: 'decor', afterDraw: (chart: any) => draw(chart) }],
  };
}

const TICK_SIZE = 27;
const TICK_SX = 0.84;

function drawTopPanel(chart: any) {
  const ctx = chart.ctx;
  const { x, y } = chart.scales;
  const a = chart.chartArea;
  line(ctx, a.left, a.top, a.left, a.bottom, 2);
  line(ctx, a.right, a.top, a.right, a.bottom, 2);
  line(ctx, a.left, a.bottom, a.right, a.bottom, 2);
  gwasTicksY.forEach((v) => {
    const py = y.getPixelForValue(v);
    line(ctx, a.left - 15, py, a.left, py);
    txt(ctx, String(v), 80, py, { size: TICK_SIZE, sx: TICK_SX, align: 'center', rot: -Math.PI / 2 });
  });
  positionTicks.forEach((v) => {
    const px = x.getPixelForValue(v);
    line(ctx, px, a.bottom, px, a.bottom + 12);
  });
  txt(ctx, 'Cerebral aneurysm GWAS', 131, 57, { size: 26 });
  txt(ctx, 'a', 11, 31, { size: 31, weight: 'bold' });
  yTitle(ctx, 35, 334, 25);
}

function drawBottomPanel(chart: any) {
  const ctx = chart.ctx;
  const { x, y } = chart.scales;
  const a = chart.chartArea;
  line(ctx, a.left, a.top, a.left, a.bottom, 2);
  line(ctx, a.right, a.top, a.right, a.bottom, 2);
  line(ctx, a.left, a.bottom, a.right, a.bottom, 2);
  eqtlTicksY.forEach((v) => {
    const py = y.getPixelForValue(v);
    line(ctx, a.left - 15, py, a.left, py);
    txt(ctx, String(v), 80, py, { size: TICK_SIZE, sx: TICK_SX, align: 'center', rot: -Math.PI / 2 });
  });
  positionTicks.forEach((v) => {
    const px = x.getPixelForValue(v);
    line(ctx, px, a.bottom, px, a.bottom + 15);
    txt(ctx, fmtBp(v), px, 697, { size: TICK_SIZE + 1, sx: TICK_SX, align: 'center' });
  });
  txt(ctx, 'Position [bp]', (a.left + a.right) / 2, 729, { size: 24, align: 'center' });
  txt(ctx, 'Tibial artery eQTL', 133, 376, { size: 26 });
  // legend
  ctx.save();
  ctx.strokeStyle = '#8a8a8a';
  ctx.lineWidth = 1.3;
  ctx.strokeRect(133, 399, 162, 64);
  ctx.fillStyle = '#000';
  ctx.beginPath();
  const dx = 146.5, dy = 416;
  ctx.moveTo(dx - 8, dy);
  ctx.lineTo(dx, dy - 8);
  ctx.lineTo(dx + 8, dy);
  ctx.lineTo(dx, dy + 8);
  ctx.closePath();
  ctx.fill();
  ctx.fillRect(141, 434.5, 13.5, 13.5);
  ctx.restore();
  txt(ctx, legendSnps[0], 163, 425, { size: 20.5 });
  txt(ctx, legendSnps[1], 163, 448, { size: 20.5 });
}

function drawRightPanel(chart: any) {
  const ctx = chart.ctx;
  const { x, y } = chart.scales;
  const a = chart.chartArea;
  ctx.save();
  ctx.strokeStyle = AXIS;
  ctx.lineWidth = 2;
  ctx.strokeRect(a.left, a.top, a.right - a.left, a.bottom - a.top);
  ctx.restore();
  mTicksY.forEach((v) => {
    const py = y.getPixelForValue(v);
    line(ctx, a.left - 15, py, a.left, py);
    txt(ctx, String(v), 991, py, { size: 25, sx: TICK_SX, align: 'center', rot: -Math.PI / 2 });
  });
  mTicksX.forEach((v) => {
    const px = x.getPixelForValue(v);
    line(ctx, px, a.bottom, px, a.bottom + 15);
    txt(ctx, v.toFixed(1), px, 666, { size: TICK_SIZE, sx: 0.9, align: 'center' });
  });
  txt(ctx, 'M value', (a.left + a.right) / 2, 730, { size: 25, align: 'center' });
  yTitle(ctx, 958, 330, 25);
  mTissue.forEach(([mx, my], i) => {
    txt(ctx, mTissueNames[i], x.getPixelForValue(mx) - 12, y.getPixelForValue(my) - 13, {
      size: 25.5,
      align: 'right',
    });
  });
  txt(ctx, 'b', 935, 31, { size: 30, weight: 'bold' });
}

function useChart(ref: any, cfgFn: () => any) {
  useEffect(() => {
    if (!ref.current) return;
    const chart = new Chart(ref.current, cfgFn());
    return () => chart.destroy();
  }, []);
}

export default function App() {
  const r1 = useRef<HTMLCanvasElement>(null);
  const r2 = useRef<HTMLCanvasElement>(null);
  const r3 = useRef<HTMLCanvasElement>(null);

  useChart(r1, () =>
    makeConfig(
      TOP,
      [89459600, 90540400],
      [-0.355, 9.46],
      [
        ptsDataset(toXY(gwasDiamond), MAGENTA, 14, 'rectRot', 1.6),
        ptsDataset(toXY(gwasSquare), MAGENTA, 14.1, 'rect', 1.6),
        ptsDataset(toXY(gwasLinked), MAGENTA, R_PT),
        ptsDataset(toXY(gwasPeak), GRAY, R_PT),
        ptsDataset(expand(gwasBackground), GRAY, R_PT),
        ptsDataset(expand(gwasBackgroundFill), GRAY, R_PT),
        ptsDataset(expand(gwasLow), GRAY, R_PT),
      ],
      drawTopPanel
    )
  );
  useChart(r2, () =>
    makeConfig(
      BOT,
      [89459600, 90540400],
      [-0.56, 14.0],
      [
        ptsDataset(toXY(eqtlSquare), MAGENTA, 14.1, 'rect', 1.6),
        ptsDataset(toXY(eqtlDiamond), MAGENTA, 14, 'rectRot', 1.6),
        ptsDataset(toXY(eqtlLinked), MAGENTA, R_PT),
        ptsDataset(toXY(eqtlPeak), GRAY, R_PT),
        ptsDataset(expand(eqtlBackground), GRAY, R_PT),
        ptsDataset(expand(eqtlBackgroundFill), GRAY, R_PT),
        ptsDataset(expand(eqtlLow), GRAY, R_PT),
      ],
      drawBottomPanel
    )
  );
  useChart(r3, () =>
    makeConfig(
      RB,
      [-0.04, 1.04],
      [-0.54, 14.5],
      [ptsDataset(toXY(mTissue, 1), BLUE, 9.5), ptsDataset(toXY(mOther, 1), GRAY, 5.5)],
      drawRightPanel
    )
  );

  const cs: React.CSSProperties = { position: 'absolute', left: 0, top: 0 };
  return (
    <div style={{ position: 'fixed', left: 0, top: 0, width: W, height: H, background: '#fff' }}>
      <canvas ref={r1} width={W} height={H} style={cs} />
      <canvas ref={r2} width={W} height={H} style={cs} />
      <canvas ref={r3} width={W} height={H} style={cs} />
    </div>
  );
}
